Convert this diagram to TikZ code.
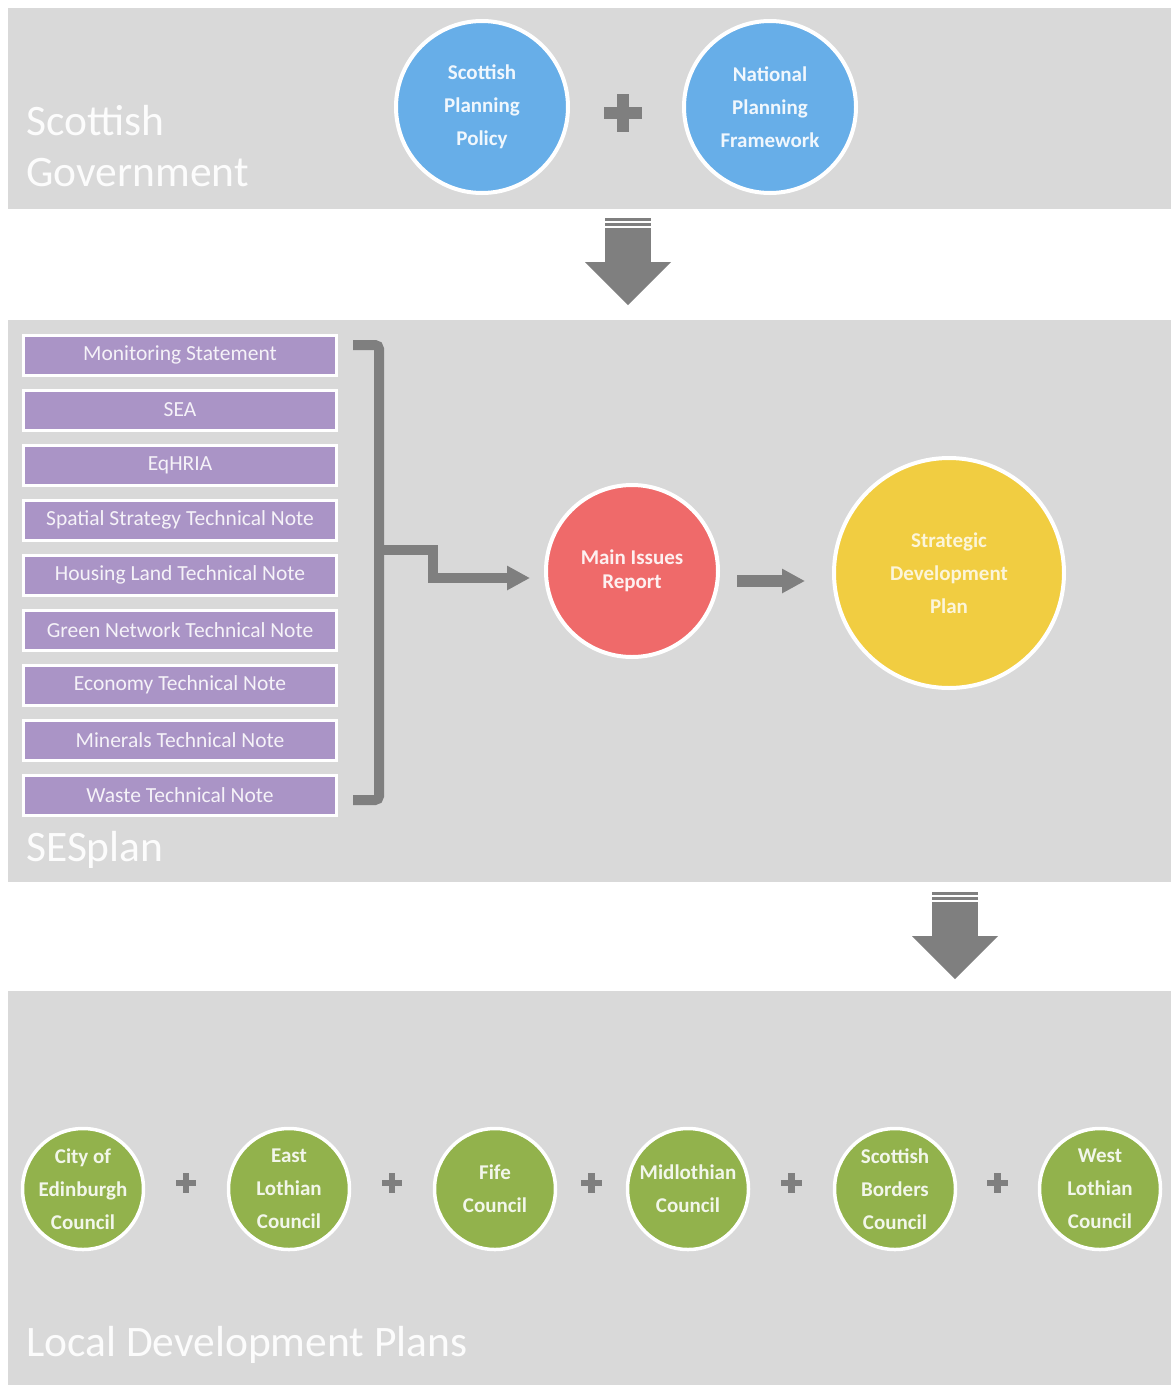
\documentclass[tikz,border=0pt]{standalone}
\usepackage{fontspec}
\setmainfont{Carlito}
\usepackage{tikz}
\usetikzlibrary{matrix,positioning,calc,arrows.meta}

\definecolor{bandgray}{HTML}{D9D9D9}
\definecolor{arrowgray}{HTML}{7F7F7F}
\definecolor{sppblue}{HTML}{67AEE8}
\definecolor{mirred}{HTML}{EF6A6A}
\definecolor{sdpyellow}{HTML}{F1CD41}
\definecolor{ldpgreen}{HTML}{92B24C}
\definecolor{notepurple}{HTML}{AA94C6}

\tikzset{
  band/.style={fill=bandgray,inner sep=0pt,anchor=north west},
  bandlabel/.style={text=white!92!bandgray,font=\fontsize{43.5}{51}\selectfont,align=left,
    anchor=south west,inner sep=0pt,text depth=0pt},
  circnode/.style={circle,draw=white,line width=4pt,inner sep=0pt,align=center,
    font=\bfseries\fontsize{21}{33}\selectfont},
  ldpcirc/.style={circnode,fill=ldpgreen,text=white!88!ldpgreen,minimum size=121pt,line width=3.5pt},
  notebox/.style={fill=notepurple,draw=white,line width=3pt,minimum width=313pt,
    minimum height=40pt,inner sep=0pt,text=white!88!notepurple,font=\fontsize{21.5}{24}\selectfont},
  bracketline/.style={draw=arrowgray,line width=10pt,rounded corners=4pt},
  flowline/.style={draw=arrowgray,line width=10pt,-{Triangle[length=23pt,width=23pt]}},
  pics/plussign/.style={code={
    \fill[arrowgray] (-19,-6) rectangle (19,6);
    \fill[arrowgray] (-6,-19) rectangle (6,19);}},
  pics/bigarrow/.style={code={
    \fill[arrowgray] (-23,0) rectangle (23,3);
    \fill[arrowgray] (-23,5) rectangle (23,8);
    \fill[arrowgray] (-23,10) rectangle (23,44);
    \fill[arrowgray] (-43,44) -- (43,44) -- (0,87) -- cycle;}}
}

\begin{document}
\begin{tikzpicture}[x=1pt,y=-1pt]
		\fill[white] (0,0) rectangle (1171,1385);
		\useasboundingbox (0,0) rectangle (1171,1385);
		% the three bands
		\node[band,minimum width=1163pt,minimum height=201pt] (gov) at (8,8) {};
		\node[band,minimum width=1163pt,minimum height=562pt] (ses) at (8,320) {};
		\node[band,minimum width=1163pt,minimum height=394pt] (ldp) at (8,991) {};
		\node[bandlabel] (govlabel) at (26,187) {Scottish\\Government};
		\node[bandlabel] (seslabel) at (26,862) {SESplan};
		\node[bandlabel] (ldplabel) at (26,1357) {Local Development Plans};
		% national level
		\node[circnode,fill=sppblue,text=white!90!sppblue,minimum size=172pt] (spp) at (482,107) {Scottish\\Planning\\Policy};
		\node[circnode,fill=sppblue,text=white!90!sppblue,minimum size=172pt,right of=spp,node distance=288pt] (npf) {National\\Planning\\Framework};
		\pic at ([xshift=-3pt,yshift=-6pt]$(spp)!0.5!(npf)$) {plussign};
		\pic at (628,218) {bigarrow};
		% strategic level
		\matrix (notes) at (180,575) [matrix of nodes,row sep=12pt,nodes={notebox}]
		{
		Monitoring Statement\\
		SEA\\
		EqHRIA\\
		Spatial Strategy Technical Note\\
		Housing Land Technical Note\\
		Green Network Technical Note\\
		Economy Technical Note\\
		Minerals Technical Note\\
		Waste Technical Note\\
		};
		\node[circnode,fill=mirred,text=white!90!mirred,minimum size=172pt,font=\bfseries\fontsize{21}{24}\selectfont] (mir) at (632,571) {Main Issues\\Report};
		\node[circnode,fill=sdpyellow,text=white!80!sdpyellow,minimum size=230pt] (sdp) at (949,573) {Strategic\\Development\\Plan};
		\coordinate (brtop) at (353,345);
		\coordinate (brbot) at (353,800);
		\coordinate (brmid) at (379,550);
		\coordinate (stepend) at (433,578);
		\coordinate (sdpline) at (0,581);
		\draw[bracketline] (brtop) -- (379,345) -- (379,800) -- (brbot);
		\draw[flowline,shorten >=14pt] (brmid) -| (stepend) -- (stepend -| mir.west);
		\draw[flowline,line width=12pt,shorten <=17pt,shorten >=27pt] (mir.east |- sdpline) -- (sdp.west |- sdpline);
		\pic at (955,892) {bigarrow};
		% local level
		\node[ldpcirc] (cec) at (83,1189) {City of\\Edinburgh\\Council};
		\node[ldpcirc,right of=cec,node distance=206pt] (elc) {East\\Lothian\\Council};
		\node[ldpcirc,right of=elc,node distance=206pt] (fife) {Fife\\Council};
		\node[ldpcirc,right of=fife,node distance=193pt] (mid) {Midlothian\\Council};
		\node[ldpcirc,right of=mid,node distance=207pt] (sbc) {Scottish\\Borders\\Council};
		\node[ldpcirc,right of=sbc,node distance=205pt] (wlc) {West\\Lothian\\Council};
		\pic[scale=0.53] at ([yshift=6pt]$(cec)!0.5!(elc)$) {plussign};
		\pic[scale=0.53] at ([yshift=6pt]$(elc)!0.5!(fife)$) {plussign};
		\pic[scale=0.53] at ([yshift=6pt]$(fife)!0.5!(mid)$) {plussign};
		\pic[scale=0.53] at ([yshift=6pt]$(mid)!0.5!(sbc)$) {plussign};
		\pic[scale=0.53] at ([yshift=6pt]$(sbc)!0.5!(wlc)$) {plussign};
	\end{tikzpicture}
\end{document}
